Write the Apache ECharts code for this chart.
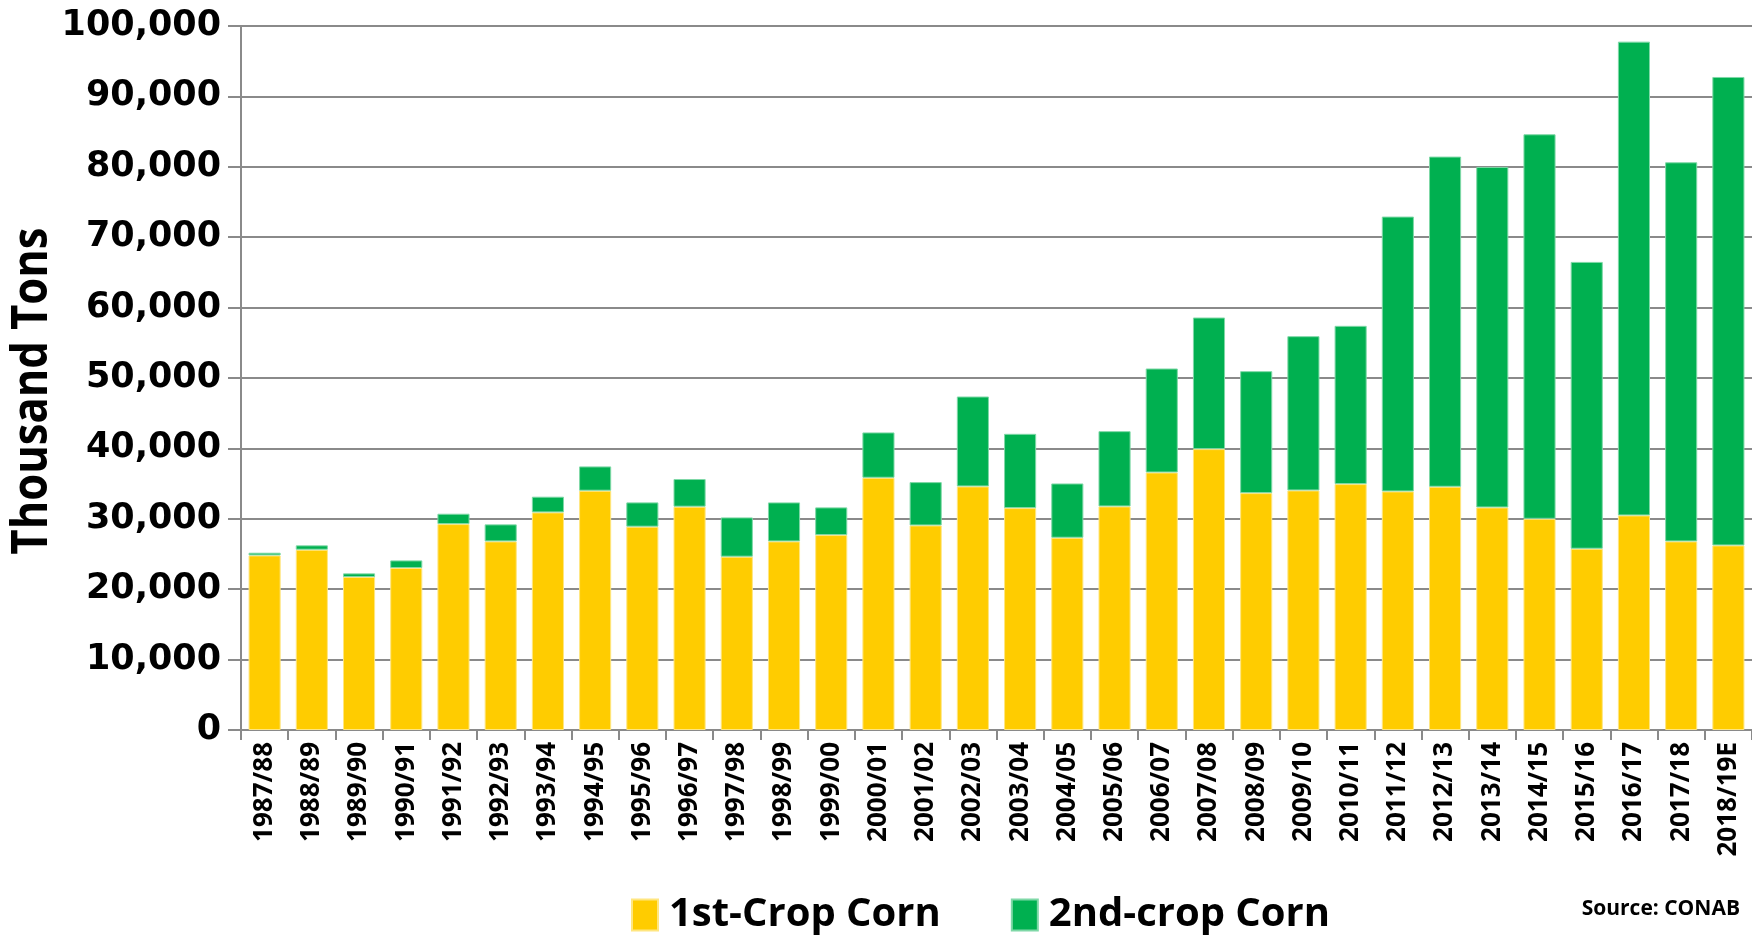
<!DOCTYPE html>
<html>
<head>
<meta charset="utf-8">
<script src="https://cdn.jsdelivr.net/npm/echarts@6/dist/echarts.min.js"></script>
<style>
html,body{margin:0;padding:0;background:#fff;}
#chart{width:1752px;height:935px;}
</style>
</head>
<body>
<div id="chart"></div>
<script>
const categories = ["1987/88","1988/89","1989/90","1990/91","1991/92","1992/93","1993/94","1994/95","1995/96","1996/97","1997/98","1998/99","1999/00","2000/01","2001/02","2002/03","2003/04","2004/05","2005/06","2006/07","2007/08","2008/09","2009/10","2010/11","2011/12","2012/13","2013/14","2014/15","2015/16","2016/17","2017/18","2018/19E"];
const firstCrop = [24800,25610,21730,23010,29250,26790,30910,33990,28880,31720,24620,26790,27690,35830,29060,34600,31520,27310,31760,36580,39900,33650,34030,34930,33890,34550,31610,30000,25750,30480,26790,26220];
const secondCrop = [380,620,520,1080,1470,2420,2230,3450,3450,3930,5580,5540,3930,6440,6150,12770,10550,7710,10690,14770,18690,17320,21910,22480,39040,46900,48370,54620,40740,67300,53850,66540];
const yTicks = {min:0, max:100000, interval:10000};
const yAxisTitle = 'Thousand Tons';
const sourceText = 'Source: CONAB';

const sans = '"Open Sans","Noto Sans",sans-serif';
const chart = echarts.init(document.getElementById('chart'), null, {renderer:'canvas'});
chart.setOption({
  animation:false,
  backgroundColor:'#ffffff',
  grid:{left:241, right:-3, top:26, bottom:205, containLabel:false},
  legend:{
    left:626, top:890,
    itemWidth:26, itemHeight:31, itemGap:70,
    icon:'rect',
    textStyle:{fontFamily:sans, fontWeight:'bold', fontSize:40, color:'#000', padding:[0,0,0,6]},
    data:['1st-Crop Corn','2nd-crop Corn']
  },
  graphic:[
    {type:'text', x:33, y:391, rotation:Math.PI/2, scaleX:0.87,
     style:{text:yAxisTitle, fontFamily:sans, fontWeight:'bold', fontSize:50, fill:'#000', align:'center', verticalAlign:'middle'}},
    {type:'text', right:12, top:899,
     style:{text:sourceText, fontFamily:sans, fontWeight:'bold', fontSize:21, fill:'#000'}}
  ],
  xAxis:{
    type:'category', data:categories,
    axisLine:{show:true, lineStyle:{color:'#8a8a8a', width:2}},
    axisTick:{show:true, length:10, lineStyle:{color:'#8a8a8a', width:2}},
    axisLabel:{rotate:90, interval:0, margin:12, fontFamily:sans, fontWeight:'bold', fontSize:26, color:'#000'}
  },
  yAxis:{
    type:'value', min:yTicks.min, max:yTicks.max, interval:yTicks.interval,
    axisLine:{show:true, lineStyle:{color:'#8a8a8a', width:2}},
    axisTick:{show:true, length:13, lineStyle:{color:'#8a8a8a', width:2}},
    splitLine:{show:true, lineStyle:{color:'#8a8a8a', width:2}},
    axisLabel:{margin:20, fontFamily:'"DejaVu Sans",Verdana,sans-serif', fontWeight:'bold', fontSize:35, color:'#000',
      formatter:v=>v.toLocaleString('en-US')}
  },
  series:[
    {name:'1st-Crop Corn', type:'bar', stack:'total', data:firstCrop, barWidth:'68%',
     itemStyle:{color:'#FFCC00', borderColor:'#ffe680', borderWidth:1}},
    {name:'2nd-crop Corn', type:'bar', stack:'total', data:secondCrop, barWidth:'68%',
     itemStyle:{color:'#00B050', borderColor:'#7fd8a7', borderWidth:1}}
  ]
});
</script>
</body>
</html>
